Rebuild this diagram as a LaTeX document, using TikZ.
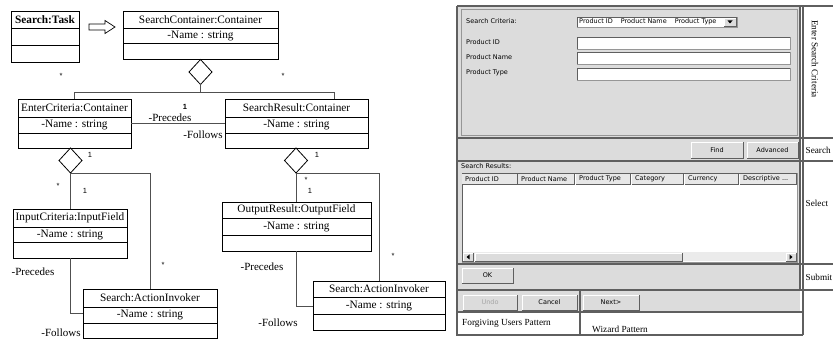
\documentclass[tikz,border=0pt]{standalone}
\usepackage{fontspec}
\setmainfont{Liberation Serif}
\newfontfamily\uisans{DejaVu Sans}
\newfontfamily\lsans{Liberation Sans}
\usetikzlibrary{shapes.geometric,fit}

\definecolor{panelgray}{RGB}{220,220,220}
\definecolor{darkline}{RGB}{95,95,95}
\definecolor{midline}{RGB}{150,150,150}
\definecolor{connc}{RGB}{80,80,80}
\definecolor{disabledtxt}{RGB}{165,165,165}
\definecolor{trackgray}{RGB}{235,235,235}

\newcommand{\umlcls}[9]{%
  \node[clsbox, fit={(#2,#3) (#4,#5)}] (#1) {};
  \draw[clsline] (#2,#6) -- (#4,#6);
  \draw[clsline] (#2,#7) -- (#4,#7);
  \node[clstext] (#1-t) at ({(#2+#4)/2},{(#3+#6)/2}) {#8};
  \node[clstext] (#1-a) at ({(#2+#4)/2},{(#6+#7)/2}) {#9};
}
\newcommand{\uibtn}[6]{%
  \fill[panelgray] (#2,#3) rectangle (#4,#5);
  \draw[white, line width=0.9pt] (#2,#5) -- (#2,#3) -- (#4,#3);
  \draw[darkline, line width=0.9pt] (#2,#5) -- (#4,#5) -- (#4,#3);
  \node[uic] (#1) at ({(#2+#4)/2},{(#3+#5)/2}) {#6};
}
\newcommand{\uifield}[5]{%
  \fill[white] (#2,#3) rectangle (#4,#5);
  \draw[darkline, line width=0.9pt] (#2,#5) -- (#2,#3) -- (#4,#3);
  \draw[midline, line width=0.6pt] (#2,#5) -- (#4,#5) -- (#4,#3);
  \coordinate (#1) at (#2,#3);
}
\newcommand{\hdrcell}[6]{%
  \fill[panelgray!70!white] (#2,#3) rectangle (#4,#5);
  \draw[darkline, line width=0.7pt] (#4,#3) -- (#4,#5) -- (#2,#5);
  \node[ui] (#1) at ({#2+3},{(#3+#5)/2}) {#6};
}

\begin{document}
\begin{tikzpicture}[x=1pt,y=-1pt,
  clsbox/.style={draw=black, line width=0.8pt, inner sep=0pt, outer sep=0pt},
  clsline/.style={draw=black, line width=0.8pt},
  clstext/.style={font=\fontsize{11.3}{12}\selectfont, inner sep=0pt},
  lbl/.style={font=\fontsize{11}{12}\selectfont, inner sep=0pt},
  mult/.style={font=\lsans\fontsize{7.5}{8}\selectfont, inner sep=0pt},
  conn/.style={draw=connc, line width=0.9pt},
  agg/.style={diamond, draw=black, line width=0.8pt, fill=white, inner sep=0pt, outer sep=0pt, minimum width=23pt, minimum height=25pt},
  ui/.style={font=\uisans\fontsize{6.5}{7.5}\selectfont, inner sep=0pt, anchor=west},
  uic/.style={font=\uisans\fontsize{6.5}{7.5}\selectfont, inner sep=0pt},
  side/.style={font=\fontsize{9.2}{11}\selectfont, inner sep=0pt, anchor=west},
  pat/.style={font=\fontsize{9.3}{11}\selectfont, inner sep=0pt, anchor=west},
]
\useasboundingbox (0,0) rectangle (833,339);
\fill[white] (0,0) rectangle (833,339);

% ================= LEFT: UML =================
% Search:Task
\node[clsbox, fit={(11,11) (79,62)}] (task) {};
\draw[clsline] (11,28) -- (79,28);
\draw[clsline] (11,45) -- (79,45);
\node[clstext, font=\bfseries\fontsize{11.3}{12}\selectfont] (task-t) at (45,19.5) {Search:Task};

% hollow arrow
\draw[black, line width=0.7pt] (89,24) -- (105,24) -- (105,20.5) -- (115,27) -- (105,33.5) -- (105,30) -- (89,30) -- cycle;

\umlcls{sc}{123}{11}{278}{59}{28}{43}{SearchContainer:Container}{-Name : string}
\umlcls{ec}{18}{99}{131}{148}{117}{133}{EnterCriteria:Container}{-Name : string}
\umlcls{sr}{225}{99}{368}{148}{117}{133}{SearchResult:Container}{-Name : string}
\umlcls{ic}{13}{209}{127}{258}{227}{242}{InputCriteria:InputField}{-Name : string}
\umlcls{aiA}{83}{289}{217}{338}{307}{323}{Search:ActionInvoker}{-Name : string}
\umlcls{orr}{222}{202}{371}{251}{218}{235}{OutputResult:OutputField}{-Name : string}
\umlcls{aiB}{313}{281}{445}{330}{297}{314}{Search:ActionInvoker}{-Name : string}

% aggregation diamonds
\node[agg, anchor=north] (d1) at (200.5,59.5) {};
\node[agg, anchor=north] (d2) at (70.5,148) {};
\node[agg, anchor=north] (d3) at (296,148) {};

% connectors top
\coordinate (j1) at (200.5,92);
\coordinate (k1) at (334,0);
\draw[conn] (d1.south) -- (j1);
\draw[conn] (ec.north) |- (j1);
\draw[conn] (sr.north -| k1) |- (j1);
\draw[conn] (ec.east) -- (sr.west);

% connectors left group
\coordinate (k2) at (150,0);
\coordinate (m1) at (0,313);
\draw[conn] (d2.south) -- (d2.south |- ic.north);
\draw[conn] (d2.south) -| (aiA.north -| k2);
\draw[conn] (ic.south) |- (aiA.west |- m1);

% connectors right group
\coordinate (k3) at (379,0);
\coordinate (m2) at (0,306);
\draw[conn] (d3.south) -- (d3.south |- orr.north);
\draw[conn] (d3.south) -| (aiB.north -| k3);
\draw[conn] (orr.south) |- (aiB.west |- m2);

% multiplicities and role labels
\node[mult] (s1) at (61,76) {*};
\node[mult] (s2) at (283,76) {*};
\node[mult, font=\lsans\bfseries\fontsize{7.5}{8}\selectfont] (o1) at (185,107) {1};
\node[lbl] (pr1) at (170,117.5) {-Precedes};
\node[lbl] (fo1) at (203,134.5) {-Follows};
\node[mult] (o2) at (90,155) {1};
\node[mult] (o3) at (317,155) {1};
\node[mult] (s3) at (58,186) {*};
\node[mult] (o4) at (85,191) {1};
\node[mult] (s4) at (306,180) {*};
\node[mult] (o5) at (310,191) {1};
\node[lbl] (pr2) at (33,272) {-Precedes};
\node[lbl] (fo2) at (61,333) {-Follows};
\node[mult] (s5) at (163,265) {*};
\node[lbl] (pr3) at (262,267) {-Precedes};
\node[lbl] (fo3) at (278,323) {-Follows};
\node[mult] (s6) at (393,256) {*};

% ================= RIGHT: UI =================
\fill[panelgray] (457,6) rectangle (800,312);
% top section inner frame
\draw[midline, line width=0.6pt] (461,9) rectangle (797,135);
% outer lines
\draw[darkline, line width=1.1pt] (457,6) -- (833,6);
\draw[darkline, line width=1.1pt] (457,6) -- (457,335) -- (803,335);
\draw[darkline, line width=1.1pt] (800,6) -- (800,290);
\draw[darkline, line width=1.1pt] (803,6) -- (803,335);
\foreach \yy in {138,161,264,290} {\draw[darkline, line width=1.1pt] (457,\yy) -- (833,\yy);}
\draw[darkline, line width=1.1pt] (457,312) -- (803,312);
\fill[white] (458,312.6) rectangle (802.4,334.4);
\draw[darkline, line width=1.1pt] (580,290) -- (580,335);

% search criteria section
\node[ui] (lsc) at (466,21) {Search Criteria:};
\uifield{dd}{577}{17}{737}{27}
\node[ui] (ddt) at (579,22) {Product ID\hspace{8pt}Product Name\hspace{8pt}Product Type};
\uibtn{ddb}{724}{18.5}{736}{26}{}
\fill[black] (727.5,20.5) -- (732.5,20.5) -- (730,23.5) -- cycle;
\node[ui] (lpid) at (466,42) {Product ID};
\node[ui] (lpnm) at (466,57) {Product Name};
\node[ui] (lpty) at (466,73) {Product Type};
\uifield{f1}{577}{37}{790}{49}
\uifield{f2}{577}{52}{790}{64}
\uifield{f3}{577}{68}{790}{80}

% buttons
\uibtn{bfind}{691}{142}{743}{158}{Find}
\uibtn{badv}{747}{142}{798}{158}{Advanced}

% results
\node[ui] (lsr) at (461,166) {Search Results:};
\fill[white] (462,173) rectangle (797,262);
\draw[darkline, line width=0.8pt] (462,262) -- (462,173) -- (797,173);
\draw[midline, line width=0.6pt] (462,262) -- (797,262) -- (797,173);
\hdrcell{h1}{462}{174}{517}{184}{Product ID}
\hdrcell{h2}{518}{174}{574}{184}{Product Name}
\hdrcell{h3}{576}{174}{630}{184}{Product Type}
\hdrcell{h4}{632}{174}{683}{184}{Category}
\hdrcell{h5}{685}{174}{738}{184}{Currency}
\hdrcell{h6}{740}{174}{796}{184}{Descriptive ...}
\fill[trackgray] (463,252) rectangle (796.5,261.5);
\uibtn{sl}{463}{253}{473}{261}{}
\fill[black] (469.5,254.5) -- (469.5,259.5) -- (466.5,257) -- cycle;
\uibtn{sth}{475}{253}{682}{261}{}
\uibtn{sr2}{786}{253}{796}{261}{}
\fill[black] (789.5,254.5) -- (789.5,259.5) -- (792.5,257) -- cycle;

% ok
\uibtn{bok}{462}{268}{513}{283}{OK}

% bottom buttons
\uibtn{bundo}{463}{295}{517}{310}{\textcolor{disabledtxt}{Undo}}
\uibtn{bcancel}{522}{295}{577}{310}{Cancel}
\uibtn{bnext}{583}{295}{639}{310}{Next>}
\node[pat] (pfu) at (462,323) {Forgiving Users Pattern};
\node[pat] (pwz) at (592,329) {Wizard Pattern};

% side labels
\node[side, rotate=-90] (sesc) at (815,20) {Enter Search Criteria};
\node[side] (ssearch) at (805.5,150) {Search};
\node[side] (sselect) at (805.5,203) {Select};
\node[side] (ssubmit) at (805.5,277) {Submit};
\end{tikzpicture}
\end{document}
